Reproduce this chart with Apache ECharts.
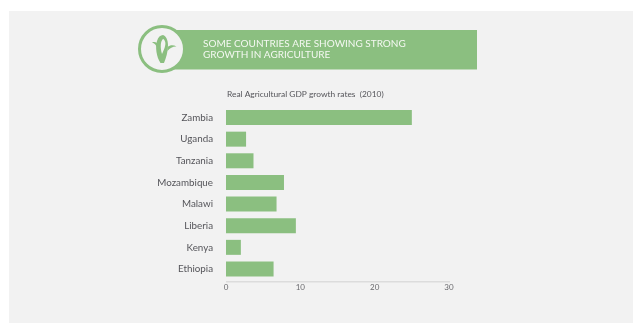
<!DOCTYPE html>
<html>
<head>
<meta charset="utf-8">
<style>
html,body{margin:0;padding:0;background:#ffffff;}
#chart{width:638px;height:323px;}
</style>
<script src="https://cdn.jsdelivr.net/npm/echarts@6/dist/echarts.min.js"></script>
</head>
<body>
<div id="chart"></div>
<script>
// Agricultural GDP growth by country, listed top to bottom
const countries = ['Zambia','Uganda','Tanzania','Mozambique','Malawi','Liberia','Kenya','Ethiopia'];
const growthRates = [25, 2.7, 3.7, 7.8, 6.8, 9.4, 2, 6.4];
const xTicks = [0, 10, 20, 30];
const headline = 'SOME COUNTRIES ARE SHOWING STRONG\nGROWTH IN AGRICULTURE';
const subtitle = 'Real Agricultural GDP growth rates  (2010)';

const GREEN = '#8bbf80';
const PANEL = '#f2f2f2';
const FONT = 'Lato, "Open Sans", sans-serif';

// corn cob emblem: ear with a slit, plus the two husk leaves
echarts.graphic.registerShape('cornEar', echarts.graphic.extendPath(
  'M160.5 63 C156.5 57 155 47 157 41 C158 37 160.5 35 163 35 C166 36 168 40 168 45 C168 52 166 58 164 63 Z M163 39 C160.5 41 160 47 162 54 C164 50 166 45 165.2 42 C164.8 40.5 164 39 163 39 Z'
));
echarts.graphic.registerShape('cornHusk', echarts.graphic.extendPath(
  'M157 43 C155.5 42 154 41.8 152 42.5 C154.5 43.2 156 45 157 47.5 Z M167.5 47 C170 44.8 173.5 44.6 176.5 46.5 C173 46.3 170 48 167.5 51 Z'
));

const chart = echarts.init(document.getElementById('chart'), null, {renderer:'canvas'});
chart.setOption({
  animation:false,
  backgroundColor:'#ffffff',
  title:{
    text:subtitle, left:227, top:90, padding:0,
    textStyle:{fontFamily:FONT,fontSize:8.4,fontWeight:'normal',color:'#55555a'}
  },
  grid:{left:226,right:189,top:106.7,bottom:43.2,containLabel:false},
  xAxis:{
    type:'value',min:0,max:30,interval:10,
    axisLine:{show:false},axisTick:{show:false},splitLine:{show:false},
    axisLabel:{
      margin:4,
      fontFamily:FONT,fontSize:8,color:'#6a6a6e',
      customValues:xTicks
    }
  },
  yAxis:{
    type:'category',inverse:true,data:countries,
    axisLine:{show:false},axisTick:{show:false},
    axisLabel:{margin:13,fontFamily:FONT,fontSize:9.8,color:'#55555a'}
  },
  series:[{
    type:'bar',data:growthRates,barWidth:15,
    itemStyle:{color:GREEN}
  }],
  graphic:[
    {type:'rect',z:-10,shape:{x:9,y:11,width:624,height:312},style:{fill:PANEL}},
    {type:'rect',z:-5,shape:{x:165,y:30,width:312,height:39.5},style:{fill:GREEN}},
    {type:'circle',z:-4,shape:{cx:162,cy:49,r:22.5},style:{fill:PANEL,stroke:GREEN,lineWidth:3}},
    {type:'cornEar',z:-3,style:{fill:GREEN}},
    {type:'cornHusk',z:-3,style:{fill:GREEN}},
    {type:'text',z:-2,style:{x:203,y:38,text:headline,fill:'#f4f8f1',fontFamily:FONT,fontSize:10,lineHeight:11.5,textVerticalAlign:'top'}},
    {type:'rect',z:-2,shape:{x:226,y:281,width:224,height:1.5},style:{fill:'#dcdcdc'}}
  ]
});
</script>
</body>
</html>
